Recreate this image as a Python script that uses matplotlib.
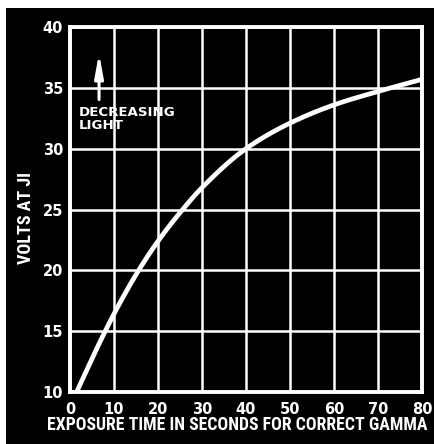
import matplotlib.pyplot as plt
import matplotlib.patches as patches
from matplotlib import font_manager
import numpy as np

# curve
exposure = [1.5, 4.7, 8, 11.6, 15.6, 20.2, 25.6, 30, 40, 50, 60, 70, 80]
volts = [10, 12.5, 15, 17.5, 20, 22.5, 25, 26.8, 30, 32.1, 33.6, 34.7, 35.7]

x_ticks = [0, 10, 20, 30, 40, 50, 60, 70, 80]
y_ticks = [10, 15, 20, 25, 30, 35, 40]

names = {f.name for f in font_manager.fontManager.ttflist}
narrow = [n for n in ['Liberation Sans Narrow', 'DejaVu Sans Condensed', 'Roboto Condensed'] if n in names]
narrow = narrow + ['DejaVu Sans']
plt.rcParams['font.family'] = ['DejaVu Sans']
plt.rcParams['font.weight'] = 'bold'


def pchip(x, y, xs):
    # monotone cubic through the read points
    x = np.asarray(x, float)
    y = np.asarray(y, float)
    h = np.diff(x)
    d = np.diff(y) / h
    m = np.zeros_like(y)
    for k in range(1, len(x) - 1):
        if d[k - 1] * d[k] > 0:
            w1 = 2 * h[k] + h[k - 1]
            w2 = h[k] + 2 * h[k - 1]
            m[k] = (w1 + w2) / (w1 / d[k - 1] + w2 / d[k])
    m[0] = d[0]
    m[-1] = d[-1]
    i = np.clip(np.searchsorted(x, xs) - 1, 0, len(x) - 2)
    t = (xs - x[i]) / h[i]
    h00 = 2 * t**3 - 3 * t**2 + 1
    h10 = t**3 - 2 * t**2 + t
    h01 = -2 * t**3 + 3 * t**2
    h11 = t**3 - t**2
    return h00 * y[i] + h10 * h[i] * m[i] + h01 * y[i + 1] + h11 * h[i] * m[i + 1]


fig = plt.figure(figsize=(4.34, 4.44), dpi=100, facecolor='white')
# black printed panel, white margin top and left
bg = patches.Rectangle((6 / 434, 0), 1, 1 - 8 / 444, transform=fig.transFigure,
                       facecolor='black', edgecolor='none', zorder=-10)
fig.add_artist(bg)

ax = fig.add_axes([70 / 434, 52 / 444, 352 / 434, 365 / 444])
ax.set_facecolor('black')

xs = np.linspace(exposure[0], exposure[-1], 400)
ax.plot(xs, pchip(exposure, volts, xs), color='white', lw=3.4, solid_capstyle='round', zorder=3)

ax.set_xlim(0, 80)
ax.set_ylim(10, 40)
ax.set_xticks(x_ticks)
ax.set_yticks(y_ticks)
ax.grid(True, color='white', lw=1.8)
for s in ax.spines.values():
    s.set_color('white')
    s.set_linewidth(2.8)
ax.tick_params(length=0, colors='white', labelsize=10.5)
ax.tick_params(axis='x', pad=7)
ax.tick_params(axis='y', pad=5)
for lbl in ax.get_xticklabels() + ax.get_yticklabels():
    lbl.set_fontweight('bold')

fig.text(237 / 434, 1 - 425 / 444, 'EXPOSURE TIME IN SECONDS FOR CORRECT GAMMA', color='white',
         fontsize=12.8, fontweight='bold', family=narrow, ha='center', va='center')
fig.text(26 / 434, 1 - 218 / 444, 'VOLTS AT JI', color='white', fontsize=13, fontweight='bold',
         family=narrow, rotation=90, ha='center', va='center')

ax.annotate('', xy=(6.6, 38.1), xytext=(6.6, 33.8),
            arrowprops=dict(arrowstyle='-|>,head_length=1.0,head_width=0.18', color='white',
                            lw=2.2, mutation_scale=14))
ax.text(2.1, 33.5, 'DECREASING\nLIGHT', color='white', fontsize=9.6, fontweight='bold',
        va='top', ha='left', linespacing=0.95)

fig.savefig('out.png', dpi=100, facecolor=fig.get_facecolor())
